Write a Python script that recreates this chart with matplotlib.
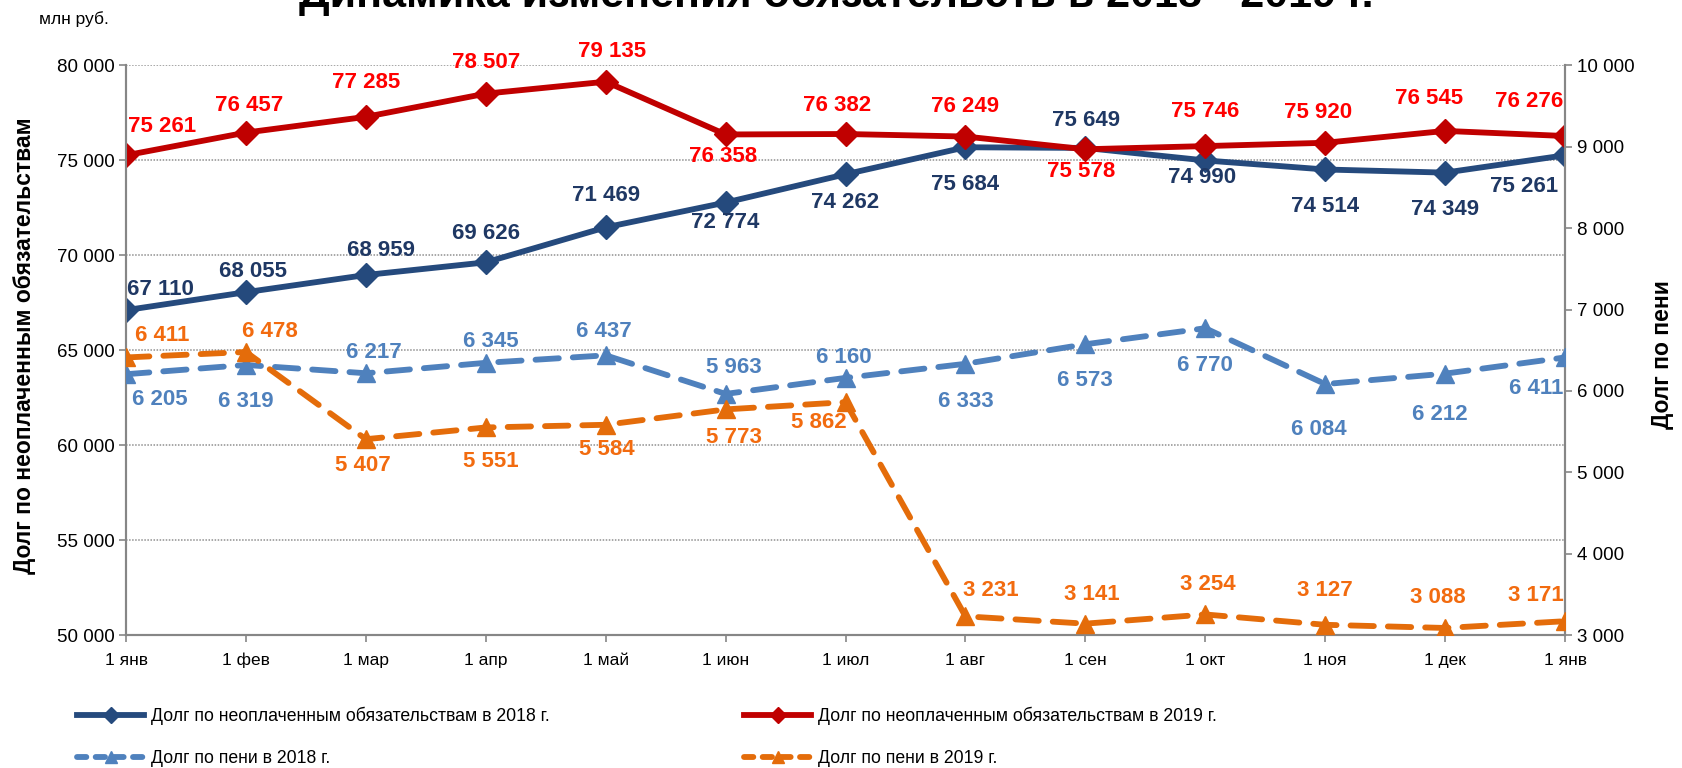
import matplotlib
matplotlib.use("Agg")
import matplotlib.pyplot as plt
from matplotlib import font_manager
from matplotlib.lines import Line2D

names = {f.name for f in font_manager.fontManager.ttflist}
NARROW = "Liberation Sans Narrow" if "Liberation Sans Narrow" in names else "Liberation Sans"
plt.rcParams["font.family"] = [NARROW, "DejaVu Sans"]

months = ["1 янв", "1 фев", "1 мар", "1 апр", "1 май", "1 июн", "1 июл",
          "1 авг", "1 сен", "1 окт", "1 ноя", "1 дек", "1 янв"]
debt_2018 = [67110, 68055, 68959, 69626, 71469, 72774, 74262,
             75684, 75649, 74990, 74514, 74349, 75261]
debt_2019 = [75261, 76457, 77285, 78507, 79135, 76358, 76382,
             76249, 75578, 75746, 75920, 76545, 76276]
peni_2018 = [6205, 6319, 6217, 6345, 6437, 5963, 6160,
             6333, 6573, 6770, 6084, 6212, 6411]
peni_2019 = [6411, 6478, 5407, 5551, 5584, 5773, 5862,
             3231, 3141, 3254, 3127, 3088, 3171]

# label offsets (pixels) from each point
off_d18 = [(34, 21), (7, 21), (15, 25), (0, 29), (0, 32), (0, -20), (0, -28),
           (0, -37), (1, 27), (-3, -17), (0, -37), (0, -37), (-41, -31)]
off_d19 = [(36, 29), (3, 27), (0, 34), (0, 31), (6, 30), (-3, -22), (-8, 29),
           (0, 30), (-4, -22), (0, 35), (-7, 30), (-16, 32), (-36, 35)]
off_p18 = [(34, -25), (0, -37), (8, 21), (5, 21), (-2, 24), (8, 26), (-2, 20),
           (0, -38), (0, -36), (0, -37), (-6, -45), (-5, -41), (-29, -31)]
off_p19 = [(36, 22), (24, 20), (-3, -26), (5, -34), (1, -25), (8, -28), (-27, -20),
           (25, 26), (6, 29), (3, 30), (0, 34), (-7, 30), (-29, 26)]

C_D18, C_D19 = "#254A7D", "#C00000"
C_P18, C_P19 = "#4F81BD", "#E46C0A"
GRID = "#868686"


def fmt(v):
    return f"{v:,}".replace(",", " ")


fig = plt.figure(figsize=(16.83, 7.68), dpi=100)
ax = fig.add_axes([0.0749, 0.173, 0.855, 0.742])
ax2 = ax.twinx()
x = list(range(len(months)))

ax.set_ylim(50000, 80000)
ax.set_yticks(range(50000, 80001, 5000))
ax.set_yticklabels([fmt(v) for v in range(50000, 80001, 5000)], fontsize=13.5)
ax.yaxis.grid(True, linestyle=(0, (1, 1)), color="#909090", linewidth=1.1)
ax.set_axisbelow(True)
ax.set_xlim(0, len(months) - 1)
ax.set_xticks(x)
ax.set_xticklabels(months, fontsize=12.5, va="baseline")
ax2.set_ylim(3000, 10000)
ax2.set_yticks(range(3000, 10001, 1000))
ax2.set_yticklabels([fmt(v) for v in range(3000, 10001, 1000)], fontsize=13.5)

for a in (ax, ax2):
    a.spines["top"].set_visible(False)
    for s in ("left", "right", "bottom"):
        a.spines[s].set_color(GRID)
        a.spines[s].set_linewidth(1.5)
    a.tick_params(colors=GRID, labelcolor="black", length=5, width=1.2)
ax.tick_params(axis="x", pad=16.5)

dash = (0, (4, 2.4))
ax.plot(x, debt_2018, color=C_D18, lw=4.2, marker="D", ms=12.5, zorder=4)
ax.plot(x, debt_2019, color=C_D19, lw=4.2, marker="D", ms=12.5, zorder=4)
ax2.plot(x, peni_2018, color=C_P18, lw=4.2, ls=dash, marker="^", ms=13,
         dash_capstyle="round", zorder=3)
ax2.plot(x, peni_2019, color=C_P19, lw=4.2, ls=dash, marker="^", ms=13,
         dash_capstyle="round", zorder=3)


def labels(a, vals, offs, color):
    for i, (v, (dx, dy)) in enumerate(zip(vals, offs)):
        a.annotate(fmt(v), (i, v), xytext=(dx, dy), textcoords="offset pixels",
                   ha="center", va="center", color=color, fontsize=16,
                   fontweight="bold", zorder=6)


labels(ax, debt_2018, off_d18, "#1F3864")
labels(ax, debt_2019, off_d19, "#FF0000")
labels(ax2, peni_2018, off_p18, C_P18)
labels(ax2, peni_2019, off_p19, "#F26B0F")

fig.text(25 / 1683, 1 - 346 / 768, "Долг по неоплаченным обязательствам",
         rotation=90, ha="center", va="center", fontsize=16.5,
         fontweight="bold", family=["Liberation Sans", "DejaVu Sans"])
fig.text(1663 / 1683, 1 - 355 / 768, "Долг по пени", rotation=90,
         ha="center", va="center", fontsize=16.5, fontweight="bold",
         family=["Liberation Sans", "DejaVu Sans"])
fig.text(39 / 1683, 1 - 19 / 768, "млн руб.", ha="left", va="center",
         fontsize=12.5, family=["Liberation Sans", "DejaVu Sans"])
fig.text(836 / 1683, 1 - 7 / 768, "Динамика изменения обязательств в 2018 - 2019 г.",
         ha="center", va="baseline", fontsize=31, fontweight="bold",
         family=["Liberation Sans", "DejaVu Sans"])


def handle(color, marker, ls, ms):
    return Line2D([], [], color=color, lw=4.2, ls=ls, marker=marker, ms=ms,
                  dash_capstyle="round")


leg_kw = dict(loc="center left", frameon=False, fontsize=12.7, handlelength=3.8,
              handletextpad=0.4, labelspacing=1.45, borderpad=0, borderaxespad=0)
fig.legend([handle(C_D18, "D", "-", 8), handle(C_P18, "^", (0, (1.6, 1.6)), 9)],
           ["Долг по неоплаченным обязательствам в 2018 г.", "Долг по пени в 2018 г."],
           bbox_to_anchor=(77 / 1683, 1 - 737 / 768), **leg_kw)
fig.legend([handle(C_D19, "D", "-", 8), handle(C_P19, "^", (0, (1.6, 1.6)), 9)],
           ["Долг по неоплаченным обязательствам в 2019 г.", "Долг по пени в 2019 г."],
           bbox_to_anchor=(744 / 1683, 1 - 737 / 768), **leg_kw)

fig.savefig("out.png", dpi=100)
